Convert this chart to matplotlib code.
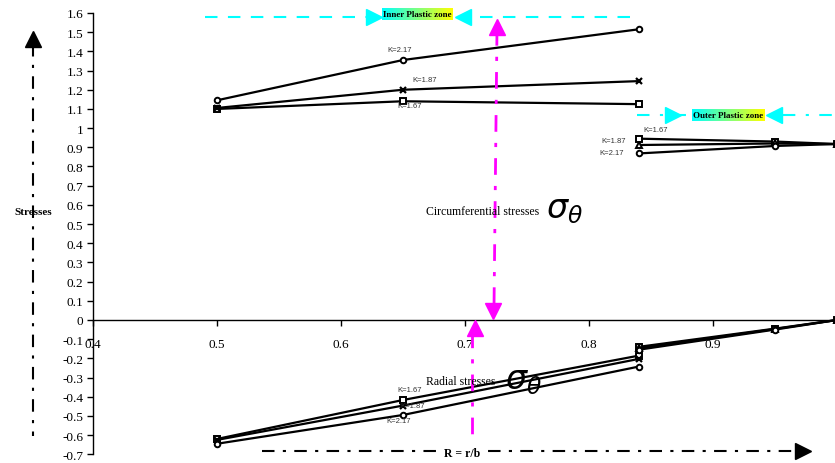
import numpy as np
import matplotlib
matplotlib.use("Agg")
import matplotlib.pyplot as plt

# ---- data ----
x_inner = [0.5, 0.65, 0.84]
x_outer = [0.84, 0.95, 1.0]

circ_inner_167 = [1.10, 1.14, 1.125]
circ_inner_187 = [1.105, 1.20, 1.245]
circ_inner_217 = [1.145, 1.355, 1.515]

circ_outer_167 = [0.945, 0.93, 0.917]
circ_outer_187 = [0.912, 0.92, 0.917]
circ_outer_217 = [0.868, 0.907, 0.917]

rad_inner_167 = [-0.62, -0.417, -0.186]
rad_inner_187 = [-0.625, -0.446, -0.203]
rad_inner_217 = [-0.645, -0.495, -0.243]

rad_outer_167 = [-0.14, -0.045, 0.0]
rad_outer_187 = [-0.148, -0.047, 0.0]
rad_outer_217 = [-0.155, -0.05, 0.0]

x_ticks = [0.4, 0.5, 0.6, 0.7, 0.8, 0.9, 1.0]
x_ticklabels = ["0.4", "0.5", "0.6", "0.7", "0.8", "0.9", "1"]
y_ticks = np.round(np.arange(-0.7, 1.61, 0.1), 1)

W, H = 835, 464
serif = "Liberation Serif"
magenta = "#ff00ff"
cyan = "#00ffff"

fig = plt.figure(figsize=(W / 100, H / 100), dpi=100)
ax = fig.add_axes([93 / W, 1 - 455.3 / H, 744 / W, (455.3 - 14) / H])

line_kw = dict(color="black", lw=1.6, clip_on=False, zorder=3)
sq = dict(marker="s", ms=4, mfc="white", mec="black", mew=1.4)
ci = dict(marker="o", ms=4, mfc="white", mec="black", mew=1.4)
cr = dict(marker="x", ms=4.5, mec="black", mew=1.6)
tr = dict(marker="^", ms=4.5, mfc="white", mec="black", mew=1.4)

ax.plot(x_inner, circ_inner_167, **line_kw, **sq)
ax.plot(x_inner, circ_inner_187, **line_kw, **cr)
ax.plot(x_inner, circ_inner_217, **line_kw, **ci)
ax.plot(x_outer, circ_outer_167, **line_kw, **sq)
ax.plot(x_outer, circ_outer_187, **line_kw, **tr)
ax.plot(x_outer, circ_outer_217, **line_kw, **ci)
ax.plot(x_inner, rad_inner_167, **line_kw, **sq)
ax.plot(x_inner, rad_inner_187, **line_kw, **cr)
ax.plot(x_inner, rad_inner_217, **line_kw, **ci)
ax.plot(x_outer, rad_outer_167, **line_kw, **sq)
ax.plot(x_outer, rad_outer_187, **line_kw, **tr)
ax.plot(x_outer, rad_outer_217, **line_kw, **ci)

ax.set_xlim(0.4, 1.0)
ax.set_ylim(-0.7, 1.6)
ax.spines["top"].set_visible(False)
ax.spines["right"].set_visible(False)
ax.spines["bottom"].set_position(("data", 0))
ax.spines["left"].set_linewidth(1)
ax.spines["bottom"].set_linewidth(1)
ax.set_xticks(x_ticks)
ax.set_xticklabels(x_ticklabels)
ax.set_yticks(y_ticks)
ax.set_yticklabels([("0" if v == 0 else ("1" if v == 1 else f"{v:.1f}")) for v in y_ticks])
ax.tick_params(axis="both", direction="out", length=4, width=1, labelsize=9.5,
               labelfontfamily=serif)
ax.tick_params(axis="x", pad=9)
ax.tick_params(axis="y", pad=3)

# ---- overlay in pixel coordinates for annotations ----
ov = fig.add_axes([0, 0, 1, 1], zorder=5)
ov.set_xlim(0, W)
ov.set_ylim(H, 0)
ov.axis("off")

grad = np.linspace(0, 1, 100)[None, :, None]
c0 = np.array([0, 1, 1])[None, None, :]
c1 = np.array([1, 1, 0])[None, None, :]
gimg = c0 * (1 - grad) + c1 * grad

# inner plastic zone
ov.plot([205, 640], [18, 18], color=cyan, lw=1.5, ls=(0, (6, 5)))
ov.plot([374], [18], marker=">", ms=12, color=cyan, mec=cyan)
ov.plot([463], [18], marker="<", ms=12, color=cyan, mec=cyan)
ov.imshow(gimg, extent=[382, 453, 21, 9], aspect="auto", zorder=2)
ov.text(417.5, 15, "Inner Plastic zone", fontsize=6.5, fontweight="bold",
        family=serif, ha="center", va="center", zorder=3)

# outer plastic zone
ov.plot([637, 835], [116, 116], color=cyan, lw=1.5, ls=(0, (6, 5, 1.5, 5)))
ov.plot([673], [116], marker=">", ms=12, color=cyan, mec=cyan)
ov.plot([774], [116], marker="<", ms=12, color=cyan, mec=cyan)
ov.imshow(gimg, extent=[692, 765, 122, 110], aspect="auto", zorder=2)
ov.text(728.5, 116, "Outer Plastic zone", fontsize=6.5, fontweight="bold",
        family=serif, ha="center", va="center", zorder=3)

# magenta markers of the elastic/plastic boundary
ov.plot([497, 494], [30, 308], color=magenta, lw=2, ls=(0, (6, 4, 1.5, 4)))
ov.plot([497], [28], marker="^", ms=12, color=magenta)
ov.plot([493], [312], marker="v", ms=12, color=magenta)
ov.plot([472, 472], [332, 436], color=magenta, lw=2, ls=(0, (6, 4, 1.5, 4)))
ov.plot([475], [329], marker="^", ms=12, color=magenta)

# axis arrows
ov.plot([33, 33], [45, 437], color="black", lw=1.5, ls=(0, (6, 4, 1.5, 4)))
ov.plot([33], [40], marker="^", ms=11, color="black")
ov.plot([262, 796], [452, 452], color="black", lw=1.5, ls=(0, (6, 4, 1.5, 4)))
ov.plot([803], [452], marker=">", ms=11, color="black")

ov.text(33, 213, "Stresses", fontsize=8, fontweight="bold", family=serif,
        ha="center", va="center")
ov.text(462, 454, "R = r/b", fontsize=8.5, fontweight="bold", family=serif,
        ha="center", va="center", bbox=dict(fc="white", ec="none", pad=0.5))

ov.text(483, 212, "Circumferential stresses", fontsize=8.5, family=serif,
        ha="center", va="center")
ov.text(546, 210, r"$\sigma_\theta$", fontsize=24, ha="left", va="center")
ov.text(461, 382, "Radial stresses", fontsize=8.5, family=serif,
        ha="center", va="center")
ov.text(505, 381, r"$\sigma_\theta$", fontsize=24, ha="left", va="center")

k_kw = dict(fontsize=5.5, color="#333333", family="Liberation Sans",
            ha="center", va="center")
ov.text(400, 51, "K=2.17", **k_kw)
ov.text(425, 80, "K=1.87", **k_kw)
ov.text(410, 107, "K=1.67", **k_kw)
ov.text(656, 131, "K=1.67", **k_kw)
ov.text(614, 142, "K=1.87", **k_kw)
ov.text(612, 154, "K=2.17", **k_kw)
ov.text(410, 391, "K=1.67", **k_kw)
ov.text(413, 407, "K=1.87", **k_kw)
ov.text(399, 422, "K=2.17", **k_kw)

fig.savefig("out.png", dpi=100)
